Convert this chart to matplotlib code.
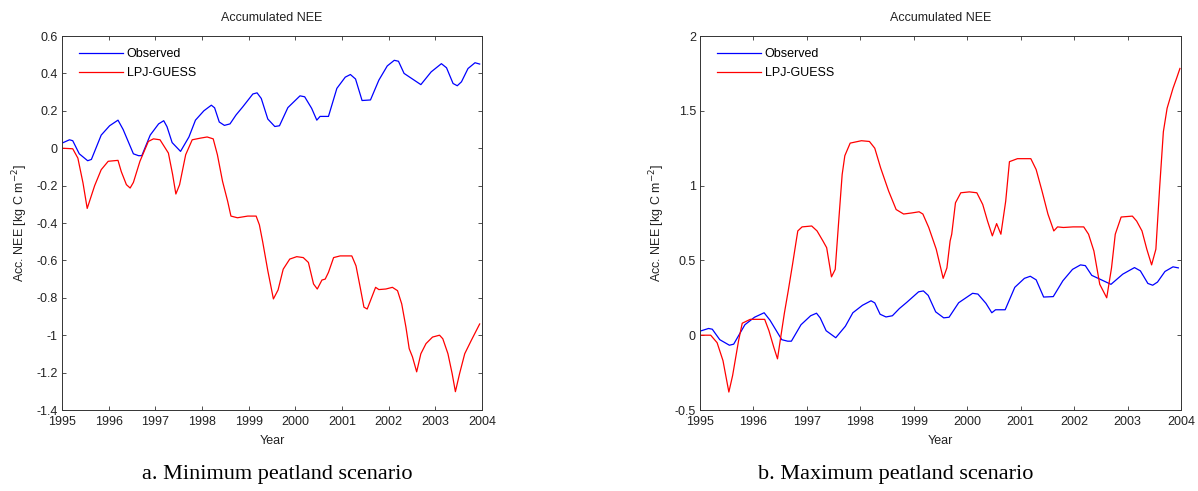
import matplotlib
matplotlib.use("Agg")
import matplotlib.pyplot as plt

# Observed accumulated NEE (shared by both panels)
obs_year = [1995.0, 1995.16, 1995.23, 1995.37, 1995.55, 1995.63, 1995.84, 1996.02, 1996.2, 1996.31,
            1996.53, 1996.64, 1996.71, 1996.89, 1997.07, 1997.18, 1997.25, 1997.36, 1997.54, 1997.72,
            1997.86, 1998.04, 1998.2, 1998.27, 1998.37, 1998.48, 1998.6, 1998.73, 1998.87, 1999.09,
            1999.18, 1999.27, 1999.41, 1999.56, 1999.66, 1999.84, 2000.1, 2000.2, 2000.35, 2000.46,
            2000.53, 2000.71, 2000.89, 2001.07, 2001.18, 2001.29, 2001.43, 2001.61, 2001.79, 2001.97,
            2002.12, 2002.21, 2002.33, 2002.51, 2002.69, 2002.91, 2003.13, 2003.24, 2003.38, 2003.47,
            2003.56, 2003.7, 2003.85, 2003.95]
obs_nee = [0.027, 0.045, 0.04, -0.03, -0.067, -0.06, 0.07, 0.12, 0.15, 0.10,
           -0.03, -0.04, -0.04, 0.07, 0.13, 0.147, 0.115, 0.03, -0.017, 0.06,
           0.15, 0.20, 0.23, 0.216, 0.14, 0.122, 0.13, 0.178, 0.22, 0.29,
           0.296, 0.266, 0.156, 0.116, 0.12, 0.217, 0.28, 0.275, 0.213, 0.15,
           0.17, 0.17, 0.32, 0.38, 0.394, 0.37, 0.255, 0.258, 0.364, 0.44,
           0.47, 0.465, 0.40, 0.37, 0.34, 0.408, 0.452, 0.43, 0.346, 0.334,
           0.355, 0.426, 0.457, 0.45]

# LPJ-GUESS, minimum peatland scenario
min_year = [1995.0, 1995.23, 1995.34, 1995.45, 1995.54, 1995.7, 1995.84, 1995.99, 1996.2, 1996.27,
            1996.38, 1996.46, 1996.53, 1996.67, 1996.85, 1996.96, 1997.1, 1997.28, 1997.37, 1997.44,
            1997.52, 1997.65, 1997.79, 1997.97, 1998.11, 1998.24, 1998.33, 1998.44, 1998.55, 1998.62,
            1998.76, 1998.98, 1999.16, 1999.23, 1999.3, 1999.41, 1999.53, 1999.63, 1999.74, 1999.88,
            2000.03, 2000.17, 2000.28, 2000.39, 2000.47, 2000.57, 2000.64, 2000.71, 2000.82, 2000.96,
            2001.21, 2001.3, 2001.39, 2001.47, 2001.54, 2001.61, 2001.72, 2001.79, 2001.94, 2002.08,
            2002.19, 2002.28, 2002.37, 2002.44, 2002.51, 2002.6, 2002.69, 2002.8, 2002.94, 2003.09,
            2003.16, 2003.27, 2003.36, 2003.43, 2003.52, 2003.63, 2003.77, 2003.95]
min_nee = [0.0, -0.003, -0.053, -0.186, -0.322, -0.20, -0.115, -0.07, -0.065, -0.125,
           -0.195, -0.213, -0.183, -0.07, 0.036, 0.05, 0.045, -0.026, -0.14, -0.245,
           -0.195, -0.035, 0.045, 0.054, 0.06, 0.05, -0.035, -0.177, -0.284, -0.363,
           -0.372, -0.363, -0.363, -0.41, -0.50, -0.655, -0.806, -0.758, -0.647, -0.593,
           -0.58, -0.585, -0.611, -0.726, -0.753, -0.705, -0.70, -0.664, -0.585, -0.576,
           -0.576, -0.629, -0.744, -0.85, -0.86, -0.815, -0.744, -0.756, -0.753, -0.744,
           -0.762, -0.833, -0.957, -1.072, -1.116, -1.196, -1.099, -1.045, -1.01, -1.0,
           -1.019, -1.099, -1.205, -1.302, -1.205, -1.099, -1.028, -0.94]

# LPJ-GUESS, maximum peatland scenario
max_year = [1995.0, 1995.2, 1995.32, 1995.43, 1995.54, 1995.61, 1995.72, 1995.79, 1995.94, 1996.21,
            1996.29, 1996.38, 1996.45, 1996.51, 1996.58, 1996.65, 1996.73, 1996.8, 1996.83, 1996.91,
            1997.09, 1997.19, 1997.3, 1997.37, 1997.46, 1997.53, 1997.6, 1997.66, 1997.71, 1997.81,
            1998.02, 1998.17, 1998.27, 1998.38, 1998.53, 1998.67, 1998.81, 1998.96, 1999.1, 1999.17,
            1999.28, 1999.42, 1999.55, 1999.62, 1999.68, 1999.71, 1999.78, 1999.88, 2000.04, 2000.18,
            2000.29, 2000.38, 2000.47, 2000.55, 2000.63, 2000.72, 2000.79, 2000.94, 2001.19, 2001.29,
            2001.4, 2001.51, 2001.62, 2001.69, 2001.8, 2001.98, 2002.18, 2002.27, 2002.37, 2002.48,
            2002.61, 2002.7, 2002.77, 2002.88, 2003.09, 2003.17, 2003.27, 2003.36, 2003.45, 2003.53,
            2003.6, 2003.67, 2003.74, 2003.85, 2003.92, 2003.98]
max_nee = [0.0, 0.0, -0.05, -0.17, -0.38, -0.27, -0.04, 0.08, 0.106, 0.106,
           0.03, -0.08, -0.158, -0.014, 0.15, 0.295, 0.47, 0.63, 0.697, 0.724,
           0.73, 0.697, 0.63, 0.585, 0.39, 0.44, 0.785, 1.074, 1.20, 1.284,
           1.30, 1.295, 1.25, 1.118, 0.963, 0.84, 0.81, 0.817, 0.825, 0.81,
           0.72, 0.575, 0.38, 0.45, 0.63, 0.675, 0.885, 0.952, 0.958, 0.952,
           0.874, 0.763, 0.664, 0.746, 0.675, 0.896, 1.16, 1.18, 1.18, 1.107,
           0.963, 0.81, 0.697, 0.724, 0.72, 0.724, 0.724, 0.675, 0.563, 0.34,
           0.25, 0.45, 0.675, 0.79, 0.796, 0.763, 0.697, 0.575, 0.47, 0.575,
           0.985, 1.36, 1.517, 1.65, 1.72, 1.783]

year_ticks = [1995, 1996, 1997, 1998, 1999, 2000, 2001, 2002, 2003, 2004]
left_yticks = [-1.4, -1.2, -1.0, -0.8, -0.6, -0.4, -0.2, 0, 0.2, 0.4, 0.6]
left_yticklabels = ["-1.4", "-1.2", "-1", "-0.8", "-0.6", "-0.4", "-0.2", "0", "0.2", "0.4", "0.6"]
right_yticks = [-0.5, 0, 0.5, 1.0, 1.5, 2.0]
right_yticklabels = ["-0.5", "0", "0.5", "1", "1.5", "2"]

plt.rcParams['font.family'] = ['Liberation Sans', 'DejaVu Sans']

W, H = 1198, 491
fig = plt.figure(figsize=(W / 100, H / 100), dpi=100)
TOP, BOT = 36, 410


def make_axes(x0, x1):
    return fig.add_axes([x0 / W, 1 - BOT / H, (x1 - x0) / W, (BOT - TOP) / H])


def style(ax, x0, x1, yticks, ylabels, ylim, caption, cap_x, ylab_x):
    wpx = x1 - x0
    hpx = BOT - TOP
    ax.set_xlim(1995, 2004)
    ax.set_ylim(*ylim)
    ax.set_xticks(year_ticks)
    ax.set_xticklabels([str(y) for y in year_ticks])
    ax.set_yticks(yticks)
    ax.set_yticklabels(ylabels)
    ax.tick_params(direction='in', top=True, right=True, labelsize=9, length=3,
                   width=0.6, color='#333333', labelcolor='#222222')
    ax.tick_params(axis='x', pad=4)
    ax.tick_params(axis='y', pad=3)
    for s in ax.spines.values():
        s.set_linewidth(0.7)
        s.set_color('#333333')
    ax.text(0.5, 1 + 18 / hpx, "Accumulated NEE", transform=ax.transAxes,
            ha='center', va='center', fontsize=9, color='#222222')
    ax.set_xlabel("Year", fontsize=9, color='#222222')
    ax.xaxis.set_label_coords(0.5, -31 / hpx)
    ax.xaxis.label.set_va('center')
    ax.set_ylabel("Acc. NEE [kg C m$^{-2}$]", fontsize=9, color='#222222')
    ax.yaxis.set_label_coords((ylab_x - x0) / wpx, 0.5)
    ax.yaxis.label.set_va('center')
    ax.legend(loc='upper left', frameon=False, fontsize=9, handlelength=3.5,
              handletextpad=0.3, labelspacing=0.6, borderaxespad=0.0, borderpad=0.0,
              bbox_to_anchor=(17 / wpx, 1 - 12 / hpx))
    fig.text(cap_x / W, 1 - 474 / H, caption, ha='center', va='center',
             fontsize=16, family='Liberation Serif')


L0, L1 = 62, 482
R0, R1 = 700, 1181

ax1 = make_axes(L0, L1)
ax1.plot(obs_year, obs_nee, color='#0000ff', lw=0.9, label='Observed')
ax1.plot(min_year, min_nee, color='#ff0000', lw=0.9, label='LPJ-GUESS')
style(ax1, L0, L1, left_yticks, left_yticklabels, (-1.4, 0.6),
      "a. Minimum peatland scenario", 277, 20)

ax2 = make_axes(R0, R1)
ax2.plot(obs_year, obs_nee, color='#0000ff', lw=0.9, label='Observed')
ax2.plot(max_year, max_nee, color='#ff0000', lw=0.9, label='LPJ-GUESS')
style(ax2, R0, R1, right_yticks, right_yticklabels, (-0.5, 2.0),
      "b. Maximum peatland scenario", 896, 657)

fig.savefig("out.png", dpi=100)
